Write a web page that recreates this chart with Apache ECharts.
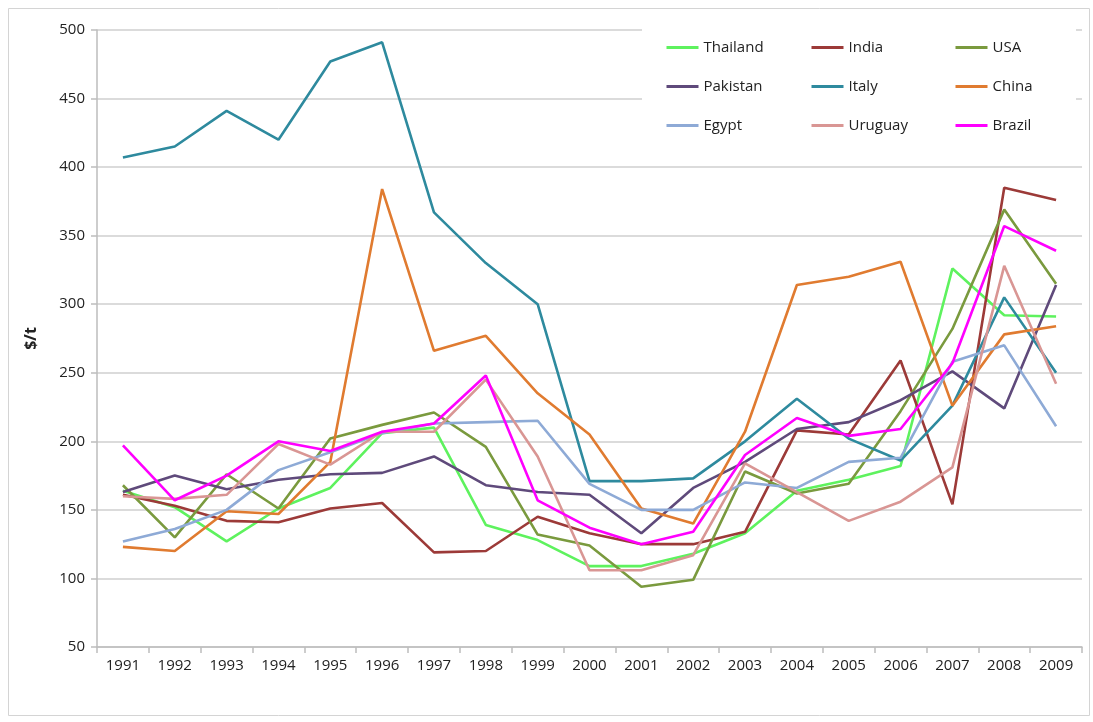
<!DOCTYPE html>
<html>
<head>
<meta charset="utf-8">
<script src="https://cdn.jsdelivr.net/npm/echarts@6/dist/echarts.min.js"></script>
<style>
html,body{margin:0;padding:0;background:#fff;}
#c{width:1093px;height:722px;}
</style>
</head>
<body>
<div id="c"></div>
<script>
const years = ['1991','1992','1993','1994','1995','1996','1997','1998','1999','2000','2001','2002','2003','2004','2005','2006','2007','2008','2009'];
const yTicks = [50,100,150,200,250,300,350,400,450,500];

const thailand = [164,152,127,151,166,206,210,139,128,109,109,118,133,164,172,182,326,292,291];
const india    = [161,153,142,141,151,155,119,120,145,133,125,125,134,208,205,259,154,385,376];
const usa      = [168,130,176,151,202,212,221,196,132,124,94,99,178,162,169,222,282,369,315];
const pakistan = [163,175,165,172,176,177,189,168,163,161,133,166,185,209,214,230,251,224,314];
const italy    = [407,415,441,420,477,491,367,330,300,171,171,173,200,231,202,186,226,305,250];
const china    = [123,120,149,147,185,384,266,277,235,205,151,140,207,314,320,331,226,278,284];
const egypt    = [127,136,150,179,192,206,213,214,215,169,150,150,170,166,185,188,258,270,211];
const uruguay  = [160,158,161,198,183,207,207,245,189,106,106,117,184,163,142,156,181,328,242];
const brazil   = [197,157,175,200,193,207,213,248,157,137,125,134,190,217,204,209,257,357,339];

const names  = ['Thailand','India','USA','Pakistan','Italy','China','Egypt','Uruguay','Brazil'];
const values = [thailand,india,usa,pakistan,italy,china,egypt,uruguay,brazil];
const colors = ['#5ef25e','#9c3a38','#7a9a3e','#5f4a7b','#2e8a9e','#e07b30','#8eaad6','#d99694','#ff00ff'];

const FONT = '"Open Sans", "Liberation Sans", sans-serif';

const chart = echarts.init(document.getElementById('c'), null, {renderer:'canvas'});

const legendCommon = {
  orient:'vertical', itemWidth:32, itemHeight:14, itemGap:24, itemTextGap:3,
  textStyle:{fontFamily:FONT, fontSize:15, color:'#222'}, top:40, padding:0,
  selectedMode:false,
  itemStyle:{opacity:0, borderWidth:0},
  lineStyle:{width:3}
};

chart.setOption({
  animation:false,
  backgroundColor:'#fff',
  color:colors,
  graphic:[
    {type:'rect', z:-10, shape:{x:8.5,y:8.5,width:1081,height:707}, style:{fill:'none', stroke:'#d4d4d4', lineWidth:1}},
    {type:'rect', z:1, shape:{x:642,y:20,width:434,height:124}, style:{fill:'#fff'}}
  ],
  legend:[
    Object.assign({}, legendCommon, {left:665, data:['Thailand','Pakistan','Egypt']}),
    Object.assign({}, legendCommon, {left:810, data:['India','Italy','Uruguay']}),
    Object.assign({}, legendCommon, {left:954, data:['USA','China','Brazil']})
  ],
  grid:{left:97, right:11, top:30, bottom:75, containLabel:false},
  xAxis:{
    type:'category', data:years, boundaryGap:true,
    axisLine:{lineStyle:{color:'#bdbdbd', width:1.5}},
    axisTick:{show:true, interval:0, length:6, lineStyle:{color:'#bdbdbd', width:1.5}},
    axisLabel:{interval:0, fontFamily:FONT, fontSize:15, color:'#222', margin:11}
  },
  yAxis:{
    type:'value', min:50, max:500, interval:50,
    name:'$/t', nameLocation:'middle', nameGap:58, nameRotate:90,
    nameTextStyle:{fontFamily:FONT, fontSize:16, fontWeight:'bold', color:'#222'},
    axisLine:{show:true, lineStyle:{color:'#bdbdbd', width:1.5}},
    axisTick:{show:true, length:6, lineStyle:{color:'#bdbdbd', width:1.5}},
    splitLine:{lineStyle:{color:'#cfcfcf', width:1.5}},
    axisLabel:{fontFamily:FONT, fontSize:15, color:'#222', margin:12,
      formatter:function(v){ return yTicks.indexOf(v) >= 0 ? String(v) : ''; }}
  },
  series: names.map(function(n,i){
    return {name:n, type:'line', data:values[i], symbol:'none', z:2+i,
      lineStyle:{width:2.6, color:colors[i]}, itemStyle:{color:colors[i]}};
  })
});
</script>
</body>
</html>
